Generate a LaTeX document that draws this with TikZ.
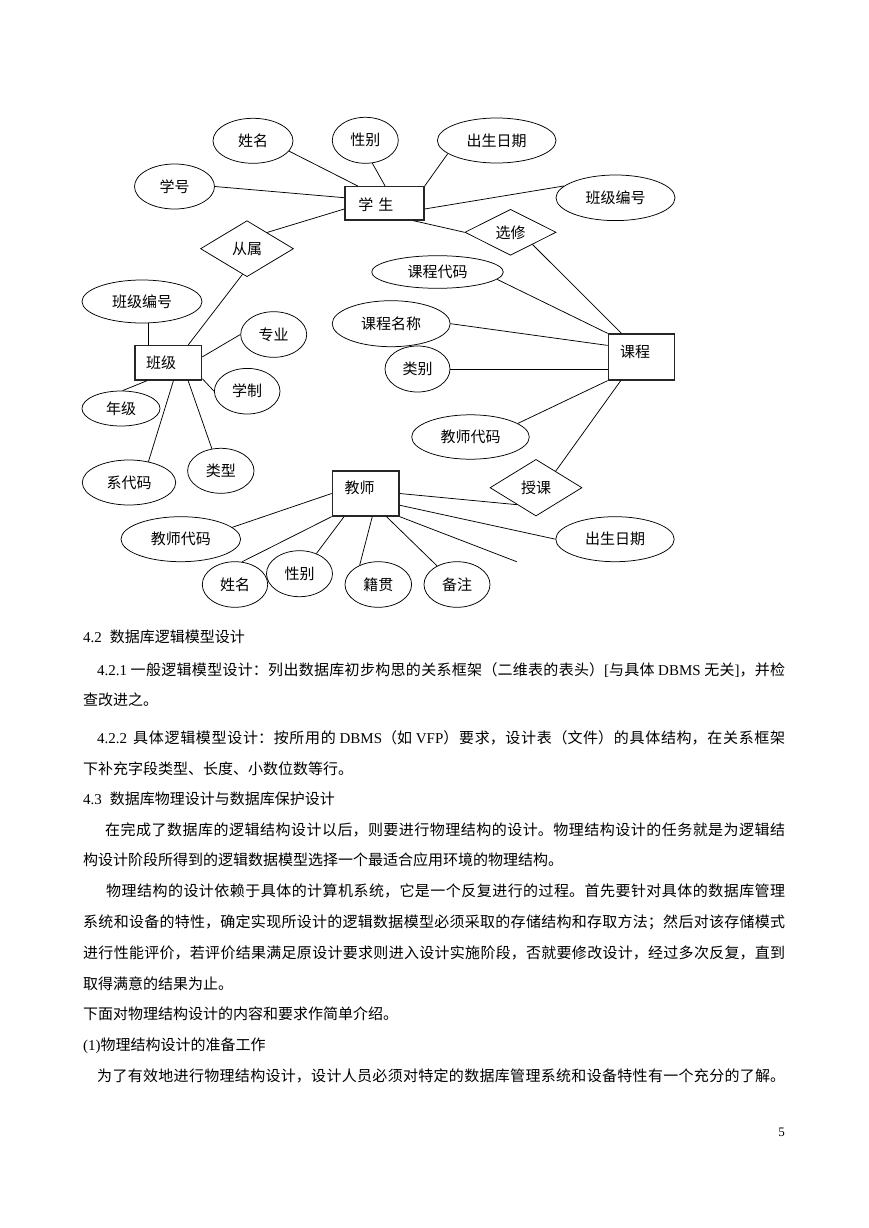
\documentclass[tikz,border=0pt]{standalone}
\usepackage{fontspec}
\setmainfont{Noto Sans CJK SC}
\newfontfamily\latf{Liberation Serif}
\usetikzlibrary{shapes.geometric}
\newcommand\lat[1]{{\latf #1}}
\newcommand\dfont{\fontsize{15}{18}\selectfont}
\newcommand\jline[2]{\parbox[t]{#1}{\XeTeXlinebreaklocale "zh"\XeTeXlinebreakskip=0pt plus 3pt minus 0.2pt\relax\tolerance=10000\parindent=0pt\parfillskip=0pt\relax #2}}
\begin{document}
\begin{tikzpicture}[x=1pt,y=-1pt,
  attr/.style={draw, ellipse, line width=0.75pt, inner sep=0pt, font=\dfont},
  ent/.style={draw=black!85, rectangle, line width=1.3pt, inner sep=0pt},
  rel/.style={draw, diamond, aspect=2, line width=0.75pt, inner sep=0pt, font=\dfont},
  conn/.style={line width=0.75pt},
  tx/.style={inner sep=0pt, font=\dfont},
  body/.style={anchor=base west, inner sep=0pt, font=\dfont}]
\useasboundingbox (0,0) rectangle (869,1228);
\fill[white] (0,0) rectangle (869,1228);

% attributes
\node[attr, minimum width=80, minimum height=45] (sxh) at (174.5,186.5) {学号};
\node[attr, minimum width=80, minimum height=45] (sxm) at (253,140.8) {姓名};
\node[attr, minimum width=66, minimum height=46] (sxb) at (365.3,140.3) {性别};
\node[attr, minimum width=118.6, minimum height=45] (scs) at (496.7,140.5) {出生日期};
\node[attr, minimum width=119, minimum height=45.6] (sbj) at (615.5,197.8) {班级编号};
\node[attr, minimum width=131.6, minimum height=32.6] (kdm) at (437.5,272) {课程代码};
\node[attr, minimum width=118, minimum height=46] (kmc) at (391.2,323.7) {课程名称};
\node[attr, minimum width=65, minimum height=46] (klb) at (417.5,369) {类别};
\node[attr, minimum width=120, minimum height=43] (bbh) at (142,301.5) {班级编号};
\node[attr, minimum width=66, minimum height=45.6] (bzy) at (273.7,334.5) {专业};
\node[attr, minimum width=65.6, minimum height=45.6] (bxz) at (247.2,391.2) {学制};
\node[attr, minimum width=78, minimum height=35] (bnj) at (121,408.5) {年级};
\node[attr, minimum width=93.4, minimum height=45] (bxd) at (129,482.5) {系代码};
\node[attr, minimum width=66.4, minimum height=45] (blx) at (220.8,470.8) {类型};
\node[attr, minimum width=117.6, minimum height=44.4] (kjs) at (470.5,437) {教师代码};
\node[attr, minimum width=119.6, minimum height=45] (jdm) at (180.8,539.2) {教师代码};
\node[attr, minimum width=118.4, minimum height=45] (jcs) at (615,539.2) {出生日期};
\node[attr, minimum width=65.4, minimum height=45.6] (jxm) at (235,584.5) {姓名};
\node[attr, minimum width=66, minimum height=46] (jxb) at (299.5,573.7) {性别};
\node[attr, minimum width=66.6, minimum height=45.6] (jjg) at (378.3,584.5) {籍贯};
\node[attr, minimum width=66, minimum height=45.6] (jbz) at (457,584.5) {备注};

% entities
\node[ent, minimum width=79, minimum height=33.3] (stu) at (384.5,203.35) {};
\node[tx] (stut) at (375.8,204.5) {学\hspace{5pt}生};
\node[ent, minimum width=66.7, minimum height=34.3] (bj) at (168.35,362.85) {};
\node[tx] (bjt) at (161,362.5) {班级};
\node[ent, minimum width=66, minimum height=46] (kc) at (641.3,357) {};
\node[tx] (kct) at (635,352) {课程};
\node[ent, minimum width=66.7, minimum height=45] (js) at (365.65,493.5) {};
\node[tx] (jst) at (359.5,487.5) {教师};

% relationships
\node[rel, minimum width=93, minimum height=56] (cs) at (247,248.7) {从属};
\node[rel, minimum width=91.2, minimum height=46] (xx) at (510.5,232.3) {选修};
\node[rel, minimum width=92, minimum height=56.6] (sk) at (536,487.7) {授课};

\coordinate (dangle) at (516.7,561.7);

% connectors
\draw[conn] (sxm.-16) -- (stu.147.6);
\draw[conn] (sxb.-73) -- (stu.88.3);
\draw[conn] (scs.-165) -- (stu.north east);
\draw[conn] (sxh.east) -- (stu.172.7);
\draw[conn] (stu.188.6) -- (cs.39);
\draw[conn] (stu.-8.1) -- (sbj.167);
\draw[conn] (stu.-31.5) -- (xx.west);
\draw[conn] (xx.-29.4) -- (kc.130.4);
\draw[conn] (kdm.-7) -- (kc.north west);
\draw[conn] (kmc.east) -- (kc.161.1);
\draw[conn] (klb.east) -- (klb.east -| kc.west);
\draw[conn] (kc.south west) -- (kjs.16);
\draw[conn] (kc.229.6) -- (sk.40);
\draw[conn] (cs.260) -- (bj.42.6);
\draw[conn] (bbh.-73.6) -- (bbh.-73.6 |- bj.north);
\draw[conn] (bj.10.4) -- (bzy.west);
\draw[conn] (bj.-25.8) -- (bxz.west);
\draw[conn] (bj.220.1) -- (bnj.85);
\draw[conn] (bj.-74.8) -- (bxd.47);
\draw[conn] (bj.-42.6) -- (blx.112);
\draw[conn] (js.west) -- (jdm.13.8);
\draw[conn] (js.south west) -- (jxm.73.6);
\draw[conn] (js.227.5) -- (jxb.50);
\draw[conn] (js.-74.9) -- (jjg.134);
\draw[conn] (js.-48.3) -- (jbz.137);
\draw[conn] (js.south east) -- (dangle);
\draw[conn] (js.-19) -- (jcs.west);
\draw[conn] (js.east) -- (sk.222);

% body text
\node[body] (p1) at (83,642) {\lat{4.2}\hspace{8pt}数据库逻辑模型设计};
\node[body] (p2) at (97,675) {\jline{688pt}{\lat{4.2.1} 一般逻辑模型设计：列出数据库初步构思的关系框架（二维表的表头）\lat{[}与具体 \lat{DBMS} 无关\lat{]}，并检}};
\node[body] (p3) at (83,705) {查改进之。};
\node[body] (p4) at (97,743) {\jline{688pt}{\lat{4.2.2}\hspace{6pt}具体逻辑模型设计：按所用的 \lat{DBMS}（如 \lat{VFP}）要求，设计表（文件）的具体结构，在关系框架}};
\node[body] (p5) at (83,774) {下补充字段类型、长度、小数位数等行。};
\node[body] (p6) at (83,804) {\lat{4.3}\hspace{8pt}数据库物理设计与数据库保护设计};
\node[body] (p7) at (105,835) {\jline{680pt}{在完成了数据库的逻辑结构设计以后，则要进行物理结构的设计。物理结构设计的任务就是为逻辑结}};
\node[body] (p8) at (83,865) {构设计阶段所得到的逻辑数据模型选择一个最适合应用环境的物理结构。};
\node[body] (p9) at (106,896) {\jline{679pt}{物理结构的设计依赖于具体的计算机系统，它是一个反复进行的过程。首先要针对具体的数据库管理}};
\node[body] (p10) at (83,927) {\jline{702pt}{系统和设备的特性，确定实现所设计的逻辑数据模型必须采取的存储结构和存取方法；然后对该存储模式}};
\node[body] (p11) at (83,958) {\jline{702pt}{进行性能评价，若评价结果满足原设计要求则进入设计实施阶段，否就要修改设计，经过多次反复，直到}};
\node[body] (p12) at (83,989) {取得满意的结果为止。};
\node[body] (p13) at (83,1019) {下面对物理结构设计的内容和要求作简单介绍。};
\node[body] (p14) at (83,1050) {\lat{(1)}物理结构设计的准备工作};
\node[body] (p15) at (97,1081) {\jline{688pt}{为了有效地进行物理结构设计，设计人员必须对特定的数据库管理系统和设备特性有一个充分的了解。}};
\node[anchor=base east, inner sep=0pt, font=\fontsize{13}{15}\selectfont] (pg) at (785,1136) {\lat{5}};
\end{tikzpicture}
\end{document}
